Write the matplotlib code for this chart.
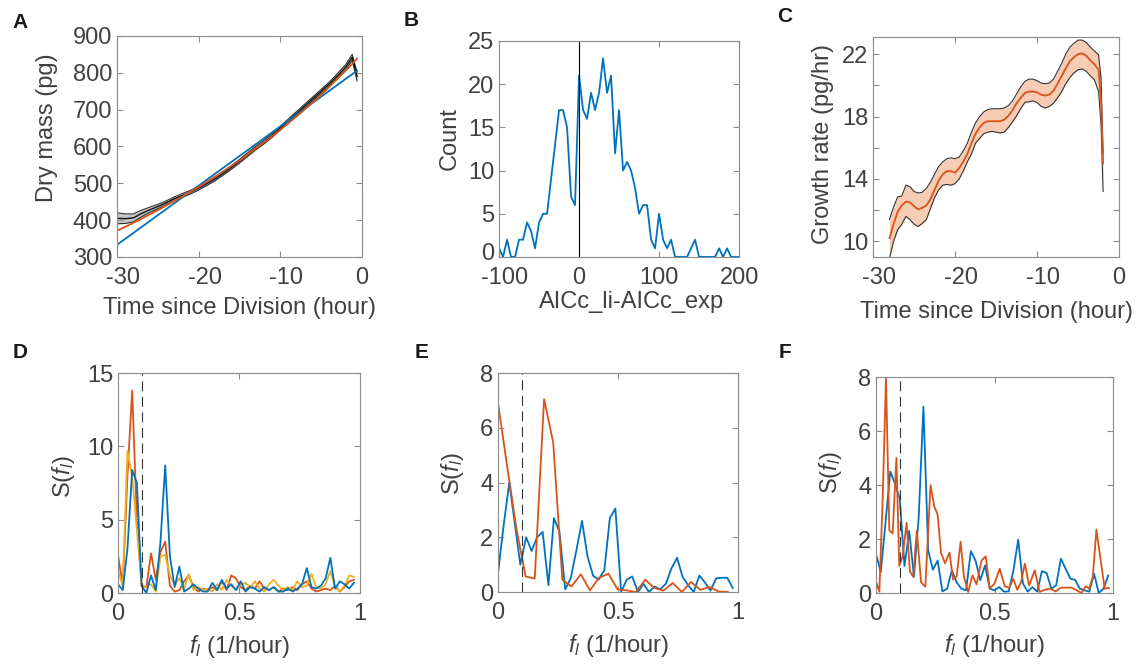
import matplotlib
matplotlib.use("Agg")
import matplotlib.pyplot as plt
from matplotlib.transforms import ScaledTranslation

plt.rcParams['font.family'] = ['Liberation Sans', 'DejaVu Sans']
plt.rcParams['mathtext.fontset'] = 'custom'
plt.rcParams['mathtext.rm'] = 'Liberation Sans'
plt.rcParams['mathtext.it'] = 'Liberation Sans:italic'
plt.rcParams['axes.unicode_minus'] = False

# ---- A: dry mass vs time since division ----
t_mass = [-30, -29, -28, -27, -26, -25, -24, -23, -22, -21, -20, -19, -18, -17, -16, -15,
          -14, -13, -12, -11, -10, -9, -8, -7, -6, -5, -4, -3, -2, -1.2, -0.6]
mass_mean = [405, 404, 406, 418, 428, 437, 447, 458, 467, 476, 487, 499, 512, 527, 543, 560,
             578, 596, 612, 630, 650, 670, 690, 710, 730, 750, 770, 792, 815, 842, 790]
mass_lo = [390, 391, 395, 409, 421, 431, 442, 453, 462, 471, 482, 494, 507, 522, 538, 555,
           573, 591, 607, 625, 645, 665, 685, 705, 725, 745, 765, 786, 808, 834, 778]
mass_hi = [420, 417, 417, 427, 435, 443, 452, 463, 472, 481, 492, 504, 517, 532, 548, 565,
           583, 601, 617, 635, 655, 675, 695, 715, 735, 755, 775, 798, 822, 850, 802]
t_expfit = [-30, -27.5, -25, -22.5, -20, -17.5, -15, -12.5, -10, -7.5, -5, -3.5, -2, -1.3, -0.6]
mass_expfit = [371, 398, 427, 458, 490, 525, 562, 603, 645, 691, 740, 773, 806, 822, 839]
t_linfit = [-30, -15, -0.6]
mass_linfit = [333, 574, 806]

# ---- B: AICc difference histogram ----
aic_bins = [-100, -95, -90, -85, -80, -75, -70, -65, -60, -55, -50, -45, -40, -35, -30, -25,
            -20, -15, -10, -5, 0, 5, 10, 15, 20, 25, 30, 35, 40, 45, 50, 55, 60, 65, 70, 75,
            80, 85, 90, 95, 100, 105, 110, 115, 120, 125, 130, 135, 140, 145, 150, 155, 160,
            165, 170, 175, 180, 185, 190, 195, 200]
aic_count = [1, 0, 2, 0, 0, 2, 2, 4, 3, 1, 4, 5, 5, 9, 13, 17,
             17, 15, 7, 6, 21, 17, 16, 19, 17, 19, 23, 19, 21, 12, 17, 10, 11, 10, 8, 5,
             6, 6, 2, 1, 5, 2, 1, 2, 0, 0, 0, 0, 1, 2, 0, 0, 0,
             0, 0, 1, 0, 1, 0, 0, 0]

# ---- C: growth rate ----
t_rate = [-28, -27.5, -27, -26.5, -26, -25.5, -25, -24.5, -24, -23.5, -23, -22.5, -22, -21.5,
          -21, -20.5, -20, -19.5, -19, -18.5, -18, -17.5, -17, -16.5, -16, -15.5, -15, -14.5,
          -14, -13.5, -13, -12.5, -12, -11.5, -11, -10.5, -10, -9.5, -9, -8.5, -8, -7.5, -7,
          -6.5, -6, -5.5, -5, -4.5, -4, -3.5, -3, -2.5, -2.2, -1.95]
rate_mean = [10.2, 11.1, 11.9, 12.3, 12.55, 12.5, 12.25, 12.05, 12.15, 12.3, 12.7, 13.3, 13.9,
             14.3, 14.5, 14.5, 14.4, 14.7, 15.1, 15.6, 16.3, 16.9, 17.3, 17.6, 17.7, 17.7, 17.7,
             17.7, 17.8, 18.05, 18.4, 18.85, 19.2, 19.5, 19.6, 19.6, 19.55, 19.4, 19.35, 19.4,
             19.65, 20.1, 20.6, 21.1, 21.55, 21.8, 22.0, 22.05, 21.9, 21.6, 21.35, 21.0, 19.0, 15.0]
rate_hi = [11.4, 12.2, 12.85, 12.9, 13.6, 13.5, 13.2, 13.1, 13.15, 13.4, 13.8, 14.3, 14.8,
           15.1, 15.3, 15.35, 15.3, 15.4, 15.8, 16.3, 17.0, 17.6, 18.0, 18.3, 18.45, 18.5, 18.5,
           18.5, 18.55, 18.7, 19.0, 19.45, 19.9, 20.25, 20.4, 20.4, 20.3, 20.15, 20.1, 20.15,
           20.4, 20.9, 21.4, 22.0, 22.45, 22.7, 22.9, 22.9, 22.75, 22.45, 22.2, 21.95, 20.5, 15.6]
rate_lo = [8.9, 10.0, 10.75, 11.1, 11.6, 11.4, 11.1, 10.95, 11.15, 11.4, 12.1, 12.8, 13.3,
           13.6, 13.65, 13.6, 13.7, 14.0, 14.5, 15.1, 15.6, 16.3, 16.6, 16.9, 17.0, 17.05, 17.0,
           16.95, 17.0, 17.3, 17.65, 18.05, 18.5, 18.9, 18.95, 19.0, 18.9, 18.65, 18.55, 18.65,
           18.85, 19.2, 19.6, 20.1, 20.5, 20.8, 21.0, 21.05, 20.9, 20.6, 20.35, 19.6, 17.5, 13.2]

# ---- D: spectra, three series ----
freq_d = [0, 0.0195, 0.039, 0.0585, 0.078, 0.0975, 0.117, 0.1365, 0.156, 0.1755, 0.195,
          0.2145, 0.234, 0.2535, 0.273, 0.2925, 0.312, 0.3315, 0.351, 0.3705, 0.39, 0.4095,
          0.429, 0.4485, 0.468, 0.4875, 0.507, 0.5265, 0.546, 0.5655, 0.585, 0.6045, 0.624,
          0.6435, 0.663, 0.6825, 0.702, 0.7215, 0.741, 0.7605, 0.78, 0.7995, 0.819, 0.8385,
          0.858, 0.8775, 0.897, 0.9165, 0.936, 0.9555, 0.975]
spec_d_orange = [2.6, 0.5, 8.0, 13.8, 5.0, 0.5, 0.4, 2.7, 0.9, 2.8, 3.5,
                 0.5, 0.1, 0.2, 0.8, 1.2, 0.4, 0.1, 0.3, 0.2, 0.4, 0.2,
                 0.8, 0.2, 1.2, 1.0, 0.4, 0.2, 0.5, 0.3, 0.8, 0.3, 0.2,
                 0.4, 0.1, 0.3, 0.2, 0.4, 0.2, 0.6, 0.8, 0.3, 0.1, 0.2,
                 0.3, 0.2, 0.5, 0.1, 0.4, 0.8, 0.9]
spec_d_yellow = [1.5, 0.5, 9.7, 7.9, 4.3, 0.5, 0.4, 0.6, 0.1, 2.5, 2.6,
                 1.2, 0.6, 1.0, 0.3, 1.3, 0.2, 0.4, 0.2, 0.3, 0.1, 0.6,
                 0.2, 0.9, 0.5, 0.2, 0.6, 0.7, 0.4, 0.8, 0.3, 0.1, 0.6,
                 0.9, 0.5, 0.2, 0.4, 0.2, 0.8, 0.4, 0.5, 1.3, 0.4, 0.3,
                 0.6, 1.5, 0.4, 0.1, 0.5, 1.2, 1.1]
spec_d_blue = [0.6, 0.2, 3.0, 8.4, 7.5, 0.5, 0.0, 1.2, 0.2, 3.5, 8.7,
               2.5, 0.4, 1.8, 0.1, 0.3, 0.6, 0.3, 0.1, 0.1, 0.7, 0.2,
               0.9, 0.3, 0.6, 0.2, 0.8, 0.1, 0.4, 0.3, 0.1, 0.4, 0.2,
               0.4, 0.1, 0.1, 0.3, 0.1, 0.3, 0.6, 1.7, 0.4, 0.3, 0.5,
               1.0, 2.4, 0.3, 0.8, 0.6, 0.3, 0.7]

# ---- E: spectra, two series ----
freq_e_blue = [0, 0.023, 0.047, 0.070, 0.093, 0.117, 0.140, 0.163, 0.186, 0.210, 0.233,
               0.256, 0.280, 0.303, 0.326, 0.350, 0.373, 0.396, 0.419, 0.443, 0.466, 0.489,
               0.513, 0.536, 0.559, 0.583, 0.606, 0.629, 0.652, 0.676, 0.699, 0.722, 0.746,
               0.769, 0.792, 0.815, 0.839, 0.862, 0.885, 0.909, 0.932, 0.955, 0.978]
spec_e_blue = [0.7, 2.4, 4.0, 2.5, 1.0, 2.0, 1.5, 2.0, 2.2, 0.25, 2.7,
               2.2, 0.1, 0.5, 1.5, 2.6, 1.3, 0.6, 0.45, 0.8, 2.7, 3.05,
               0.0, 0.45, 0.57, 0.0, 0.3, 0.0, 0.2, 0.1, 0.3, 0.85, 1.25,
               0.55, 0.25, 0.0, 0.6, 0.35, 0.05, 0.5, 0.52, 0.52, 0.15]
freq_e_orange = [0, 0.038, 0.077, 0.115, 0.153, 0.192, 0.230, 0.268, 0.306, 0.345, 0.383,
                 0.421, 0.460, 0.498, 0.536, 0.575, 0.613, 0.651, 0.689, 0.728, 0.766,
                 0.804, 0.843, 0.881, 0.919, 0.958]
spec_e_orange = [6.9, 4.6, 2.3, 0.57, 0.49, 7.05, 5.46, 0.45, 0.2, 0.65, 0.06,
                 0.52, 0.67, 0.1, 0.06, 0.0, 0.45, 0.15, 0.05, 0.33, 0.0,
                 0.37, 0.08, 0.18, 0.02, 0.0]

# ---- F: spectra, two series ----
freq_f_blue = [0, 0.02, 0.04, 0.06, 0.08, 0.10, 0.12, 0.14, 0.16, 0.18, 0.20, 0.22, 0.24,
               0.26, 0.28, 0.30, 0.32, 0.34, 0.36, 0.38, 0.40, 0.42, 0.44, 0.46, 0.48, 0.50,
               0.52, 0.54, 0.56, 0.58, 0.60, 0.62, 0.64, 0.66, 0.68, 0.70, 0.72, 0.74, 0.76,
               0.78, 0.80, 0.82, 0.84, 0.86, 0.88, 0.90, 0.92, 0.94, 0.96, 0.98]
spec_f_blue = [1.43, 0.78, 2.6, 4.5, 4.05, 3.5, 1.0, 2.3, 0.6, 2.8,
               6.9, 1.58, 0.86, 1.2, 0.06, 0.16, 0.84, 0.4, 0.16, 0.1,
               1.55, 1.2, 0.47, 1.02, 0.16, 0.1, 0.22, 0.05, 0.06, 0.84,
               1.98, 0.35, 0.05, 0.22, 0.05, 0.81, 0.74, 0.16, 0.28, 1.27,
               0.9, 0.53, 0.49, 0.16, 0.1, 0.05, 0.72, 0.0, 0.16, 0.65]
freq_f_orange = [0, 0.014, 0.028, 0.042, 0.056, 0.070, 0.086, 0.098, 0.112, 0.129,
                 0.143, 0.157, 0.172, 0.190, 0.208, 0.230, 0.246, 0.260, 0.274, 0.291,
                 0.310, 0.325, 0.340, 0.357, 0.371, 0.389, 0.407, 0.424, 0.445, 0.463,
                 0.480, 0.500, 0.522, 0.543, 0.562, 0.579, 0.596, 0.612, 0.628, 0.646,
                 0.670, 0.690, 0.712, 0.733, 0.758, 0.780, 0.803, 0.824, 0.843, 0.867,
                 0.885, 0.900, 0.915, 0.930, 0.950, 0.965, 0.983]
spec_f_orange = [0.42, 0.05, 3.5, 7.95, 2.33, 2.2, 5.0, 1.0, 1.35, 2.6,
                 0.8, 0.6, 2.3, 0.4, 0.23, 4.0, 3.2, 2.9, 1.5, 1.1,
                 1.5, 0.5, 0.6, 1.9, 0.6, 0.04, 0.65, 0.32, 1.2, 1.36,
                 0.16, 0.35, 0.9, 0.25, 0.19, 0.53, 0.12, 0.4, 1.09, 0.28,
                 0.84, 0.04, 0.12, 0.16, 0.06, 0.2, 0.2, 0.2, 0.12, 0.0,
                 0.25, 0.16, 0.6, 2.35, 1.09, 0.16, 0.19]
cutoff_freq = 0.1

BLUE = '#0072BD'
ORANGE = '#D95319'
YELLOW = '#EDB120'
EDGE = '#8c8c8c'
TXT = '#404040'
FS = 17


def style(ax):
    for s in ax.spines.values():
        s.set_color(EDGE)
        s.set_linewidth(0.8)
    ax.tick_params(direction='in', top=True, right=True, length=4, width=0.8,
                   color=EDGE, labelcolor=TXT, labelsize=FS)
    ax.tick_params(axis='x', pad=7)
    ax.tick_params(axis='y', pad=3.5)


def shift(lab, dx, dy):
    lab.set_transform(lab.get_transform() +
                      ScaledTranslation(dx / 100.0, dy / 100.0, fig.dpi_scale_trans))


def xticks(ax, vals, texts):
    # negative labels sit a little right of their tick, as in the original
    ax.set_xticks(vals)
    ax.set_xticklabels(texts)
    for lab in ax.get_xticklabels():
        if lab.get_text().startswith('-'):
            shift(lab, 6, 0)


def labels(ax, xl, yl, xpos, ypos):
    ax.set_xlabel(xl, fontsize=FS, color=TXT, va='center')
    ax.set_ylabel(yl, fontsize=FS, color=TXT, va='center')
    ax.xaxis.set_label_coords(xpos[0], xpos[1])
    ax.yaxis.set_label_coords(ypos[0], ypos[1])


fig = plt.figure(figsize=(11.48, 6.64), dpi=100)

# A
ax = fig.add_axes([0.1019, 0.6130, 0.2134, 0.3328])
style(ax)
ax.fill_between(t_mass, mass_lo, mass_hi, color='#c4c4c4', lw=0)
ax.plot(t_mass, mass_lo, color='#303030', lw=0.8)
ax.plot(t_mass, mass_hi, color='#303030', lw=0.8)
ax.plot(t_mass, mass_mean, color='#111111', lw=1.0)
ax.plot(t_linfit, mass_linfit, color=BLUE, lw=1.3)
ax.plot(t_expfit, mass_expfit, color=ORANGE, lw=1.3)
ax.set_xlim(-30, 0)
ax.set_ylim(300, 900)
xticks(ax, [-30, -20, -10, 0], ['-30', '-20', '-10', '0'])
ax.set_yticks([300, 400, 500, 600, 700, 800, 900])
labels(ax, 'Time since Division (hour)', 'Dry mass (pg)', (0.5, -0.231), (-0.286, 0.584))

# B
ax = fig.add_axes([0.4347, 0.6130, 0.2091, 0.3253])
style(ax)
ax.plot(aic_bins, aic_count, color=BLUE, lw=1.3)
ax.axvline(0, color='black', lw=0.8)
ax.set_xlim(-100, 200)
ax.set_ylim(0, 25)
xticks(ax, [-100, 0, 100, 200], ['-100', '0', '100', '200'])
ax.set_yticks([0, 5, 10, 15, 20, 25])
ax.set_yticklabels(['0', '5', '10', '15', '20', '25'])
shift(ax.get_yticklabels()[0], 0, 5)   # keep the corner "0" clear of "-100"
labels(ax, 'AICc_li-AICc_exp', 'Count', (0.55, -0.208), (-0.204, 0.55))

# C
ax = fig.add_axes([0.7605, 0.6130, 0.2143, 0.3313])
style(ax)
ax.fill_between(t_rate, rate_lo, rate_hi, color='#f6cdb4', lw=0)
ax.plot(t_rate, rate_lo, color='#333333', lw=0.8)
ax.plot(t_rate, rate_hi, color='#333333', lw=0.8)
ax.plot(t_rate, rate_mean, color=ORANGE, lw=1.3)
ax.set_xlim(-30, 0)
ax.set_ylim(9, 23.1)
xticks(ax, [-30, -20, -10, 0], ['-30', '-20', '-10', '0'])
ax.set_yticks([10, 12, 14, 16, 18, 20, 22])
ax.set_yticklabels(['10', '', '14', '', '18', '', '22'])
labels(ax, 'Time since Division (hour)', 'Growth rate (pg/hr)', (0.5, -0.25), (-0.203, 0.514))

flabel = r'$\mathit{f_l}$ (1/hour)'
slabel = r'S($\mathit{f_l}$)'

# D
ax = fig.add_axes([0.1028, 0.1069, 0.2108, 0.3313])
style(ax)
ax.plot(freq_d, spec_d_orange, color=ORANGE, lw=1.3)
ax.plot(freq_d, spec_d_yellow, color=YELLOW, lw=1.3)
ax.plot(freq_d, spec_d_blue, color=BLUE, lw=1.3)
ax.axvline(cutoff_freq, color='#333333', lw=0.8, ls=(0, (9, 5)))
ax.set_xlim(0, 1)
ax.set_ylim(0, 15)
xticks(ax, [0, 0.5, 1], ['0', '0.5', '1'])
ax.set_yticks([0, 5, 10, 15])
labels(ax, flabel, slabel, (0.5, -0.245), (-0.227, 0.53))

# E
ax = fig.add_axes([0.4338, 0.1084, 0.2091, 0.3298])
style(ax)
ax.plot(freq_e_blue, spec_e_blue, color=BLUE, lw=1.3)
ax.plot(freq_e_orange, spec_e_orange, color=ORANGE, lw=1.3)
ax.axvline(cutoff_freq, color='#333333', lw=0.8, ls=(0, (9, 5)))
ax.set_xlim(0, 1)
ax.set_ylim(0, 8)
xticks(ax, [0, 0.5, 1], ['0', '0.5', '1'])
ax.set_yticks([0, 2, 4, 6, 8])
labels(ax, flabel, slabel, (0.5, -0.242), (-0.19, 0.54))

# F
ax = fig.add_axes([0.7631, 0.1069, 0.2064, 0.3253])
style(ax)
ax.plot(freq_f_blue, spec_f_blue, color=BLUE, lw=1.3)
ax.plot(freq_f_orange, spec_f_orange, color=ORANGE, lw=1.3)
ax.axvline(cutoff_freq, color='#333333', lw=0.8, ls=(0, (9, 5)))
ax.set_xlim(0, 1)
ax.set_ylim(0, 8)
xticks(ax, [0, 0.5, 1], ['0', '0.5', '1'])
ax.set_yticks([0, 2, 4, 6, 8])
labels(ax, flabel, slabel, (0.5, -0.241), (-0.194, 0.56))

# panel letters
W, H = 1148.0, 664.0
for letter, px, py in [('A', 20, 22), ('B', 411, 21), ('C', 785, 17),
                       ('D', 20, 352), ('E', 422, 352), ('F', 785, 352)]:
    fig.text(px / W, 1 - py / H, letter, fontsize=15, fontweight='bold',
             color='#1a1a1a', ha='center', va='center')

fig.savefig('out.png', dpi=100)
